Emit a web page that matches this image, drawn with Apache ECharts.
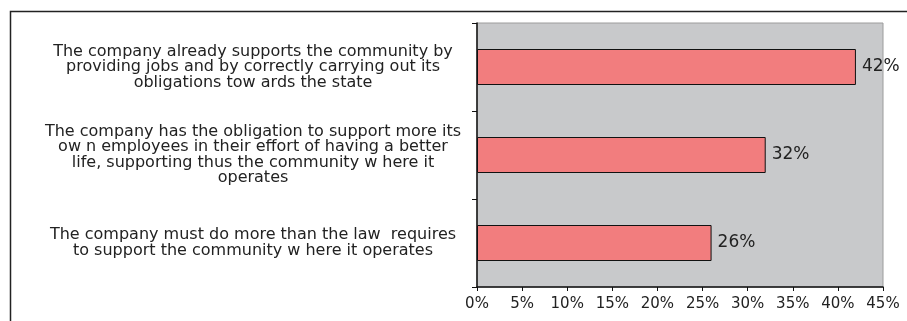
<!DOCTYPE html>
<html>
<head>
<meta charset="utf-8">
<script src="https://cdn.jsdelivr.net/npm/echarts@6/dist/echarts.min.js"></script>
<style>
  html, body { margin: 0; padding: 0; background: #fff; }
  #chart { width: 907px; height: 321px; }
</style>
</head>
<body>
<div id="chart"></div>
<script>
// answers, bottom to top (category axis starts at the bottom)
const categories = [
  "The company must do more than the law  requires\nto support the community w here it operates",
  "The company has the obligation to support more its\now n employees in their effort of having a better\nlife, supporting thus the community w here it\noperates",
  "The company already supports the community by\nproviding jobs and by correctly carrying out its\nobligations tow ards the state"
];
const shares = [26, 32, 42];
const xTicks = { min: 0, max: 45, step: 5 };

const myChart = echarts.init(document.getElementById("chart"));

const option = {
  backgroundColor: "#fff",
  textStyle: { fontFamily: "DejaVu Sans" },
  graphic: [
    {
      // outer frame of the figure
      type: "rect",
      shape: { x: 10.5, y: 11.5, width: 1000, height: 400 },
      style: { fill: "none", stroke: "#222", lineWidth: 1.5 },
      silent: true
    }
  ],
  grid: {
    left: 477,
    right: 24,
    top: 23,
    bottom: 34,
    show: true,
    backgroundColor: "#c8c9cb",
    borderColor: "#9c9c9c",
    borderWidth: 1
  },
  xAxis: {
    type: "value",
    min: xTicks.min,
    max: xTicks.max,
    interval: xTicks.step,
    axisLine: { show: true, lineStyle: { color: "#111", width: 1.5 } },
    axisTick: { show: true, length: 4, lineStyle: { color: "#111" } },
    splitLine: { show: false },
    axisLabel: {
      formatter: "{value}%",
      color: "#222",
      fontSize: 15,
      margin: 10
    }
  },
  yAxis: {
    type: "category",
    data: categories,
    axisLine: { show: true, lineStyle: { color: "#111", width: 1.5 } },
    axisTick: { show: true, length: 5, lineStyle: { color: "#111" } },
    axisLabel: {
      align: "center",
      margin: 224,
      color: "#222",
      fontSize: 16,
      lineHeight: 15.5
    }
  },
  series: [
    {
      type: "bar",
      data: shares,
      barWidth: 36,
      itemStyle: {
        color: "#f27d7e",
        borderColor: "#111",
        borderWidth: 1
      },
      label: {
        show: true,
        position: "right",
        distance: 6,
        formatter: "{c}%",
        color: "#222",
        fontSize: 17
      }
    }
  ]
};

myChart.setOption(option);
</script>
</body>
</html>
